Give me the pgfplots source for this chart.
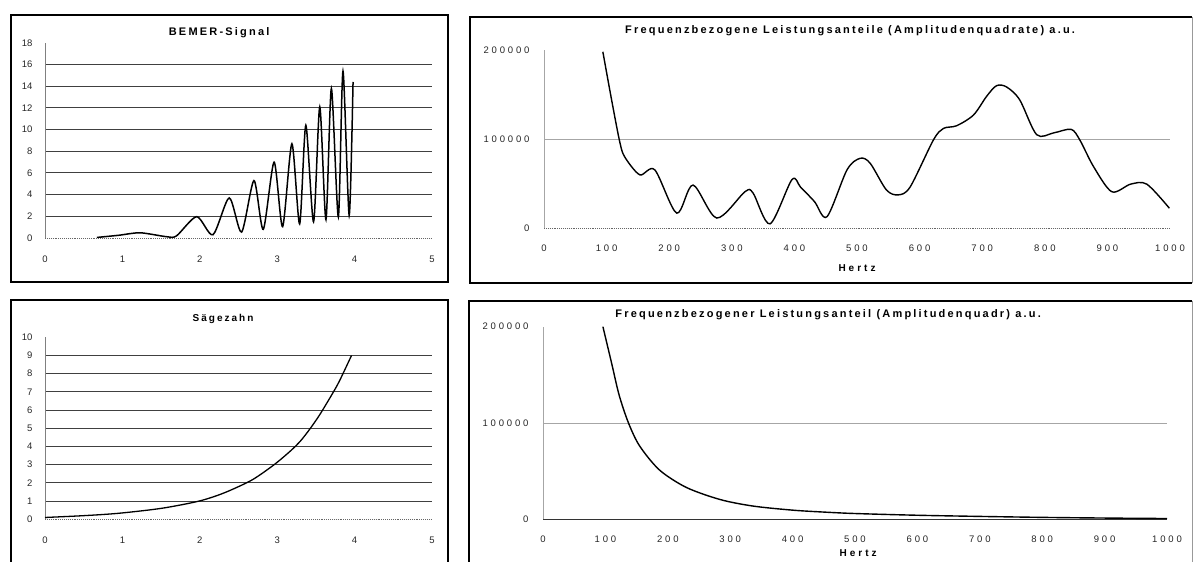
\documentclass[border=0pt]{standalone}
\usepackage{fontspec}
\setmainfont{Liberation Sans}
\newfontfamily\wideA[LetterSpace=30]{Liberation Sans}
\newfontfamily\wideB[LetterSpace=20]{Liberation Sans}
\usepackage{pgfplots}
\pgfplotsset{compat=1.18}

\pgfplotsset{
  panel/.style={
    scale only axis, anchor=origin, clip=false,
    axis lines=left, axis line style={-},
    major tick length=0pt, minor tick num=0,
    scaled ticks=false,
    /pgf/number format/assume math mode=true,
    /pgf/number format/1000 sep={},
    ymajorgrids, extra y tick style={grid=none},
    title style={anchor=center, font=\wideB\bfseries\fontsize{11}{12}\selectfont},
    tick label style={text=black!85},
  },
  leftpanel/.style={panel,
    xmin=0, xmax=5, xtick={0,...,5},
    x axis line style={black!60, line width=0.9pt, densely dotted},
    y axis line style={black!50, line width=0.6pt},
    grid style={black!75, line width=1pt},
    xticklabel style={font=\fontsize{9.5}{10}\selectfont, yshift=-14pt},
    yticklabel style={font=\fontsize{9.5}{10}\selectfont, xshift=-9pt},
  },
  rightpanel/.style={panel,
    xmin=0, xmax=1000, xtick={0,100,...,1000},
    ymin=0, ymax=200000,
    ytick={100000}, extra y ticks={0,200000},
    yticklabels={100000}, extra y tick labels={0,200000},
    y axis line style={black!35, line width=0.6pt},
    grid style={black!35, line width=0.8pt},
    xticklabel style={font=\wideA\fontsize{9.5}{10}\selectfont, yshift=-13pt},
    yticklabel style={font=\wideA\fontsize{9.5}{10}\selectfont, xshift=-11pt},
    xlabel={Hertz},
    xlabel style={anchor=center, font=\wideA\bfseries\fontsize{10}{11}\selectfont},
  },
}

\begin{document}
\begin{tikzpicture}[x=1pt,y=1pt]
\useasboundingbox (0,0) rectangle (1194,562);

% chart frames
\draw[line width=2.5pt] (11,280) rectangle (448,547);
\draw[line width=2.5pt] (1192,279) -- (470,279) -- (470,545) -- (1192,545);
\draw[black!40, line width=0.8pt] (1192,279) -- (1192,545);
\draw[line width=2.5pt] (11,-5) -- (11,262) -- (448,262) -- (448,-5);
\draw[line width=2.5pt] (469,-5) -- (469,261) -- (1192,261);
\draw[black!40, line width=0.8pt] (1192,261) -- (1192,-5);

% BEMER-Signal
\begin{axis}[leftpanel, at={(45pt,324pt)}, width=387pt, height=195pt,
  ymin=0, ymax=18, ytick={2,4,...,16}, extra y ticks={0,18},
  title={BEMER-Signal}, title style={at={(axis description cs:0.45,1.021)}}]
\addplot[black, line width=1.5pt, smooth, tension=0.45] coordinates {
 (0.67,0.05) (0.95,0.25) (1.23,0.48) (1.57,0.12) (1.70,0.2)
 (1.96,1.97) (2.17,0.3) (2.38,3.7) (2.54,0.55) (2.70,5.3)
 (2.82,0.8) (2.96,7.0) (3.07,1.05) (3.19,8.7) (3.29,1.3)
 (3.37,10.4) (3.47,1.5) (3.55,12.1) (3.63,1.7) (3.70,13.8)
 (3.79,1.95) (3.85,15.4) (3.93,2.1) (3.98,14.4)
};
\end{axis}

% Saegezahn
\begin{axis}[leftpanel, at={(45pt,42.7pt)}, width=387pt, height=182pt,
  ymin=0, ymax=10, ytick={1,...,9}, extra y ticks={0,10},
  title={Sägezahn}, title style={at={(axis description cs:0.46,1.066)},
    font=\wideB\bfseries\fontsize{10}{11}\selectfont}]
\addplot[black, line width=1.3pt, smooth] coordinates {
 (0,0.1) (0.5,0.2) (0.95,0.33) (1.5,0.6) (1.96,0.97) (2.22,1.3)
 (2.43,1.66) (2.69,2.2) (2.96,3.0) (3.17,3.75) (3.30,4.3) (3.42,4.95)
 (3.55,5.75) (3.72,6.95) (3.81,7.65) (3.96,9.0)
};
\end{axis}

% Frequenzbezogene Leistungsanteile
\begin{axis}[rightpanel, at={(544pt,333.7pt)}, width=626pt, height=178.3pt,
  x axis line style={black!60, line width=0.9pt, densely dotted},
  xlabel style={at={(axis description cs:0.5,-0.223)}},
  title={Frequenzbezogene Leistungsanteile (Amplitudenquadrate) a.u.},
  title style={at={(axis description cs:0.489,1.073)}}]
\addplot[black, line width=1.4pt, smooth, tension=0.5] coordinates {
 (94,198000) (108,144000) (121,97000) (129,80000) (153,60000)
 (177,65500) (212,17000) (238,48500) (276,11500) (321,41000)
 (334,39500) (361,5000) (396,54500) (410,46000) (432,30000)
 (452,13000) (484,65500) (505,78500) (521,73000) (547,43000)
 (566,37500) (585,46500) (622,99000) (638,112000) (659,115000)
 (686,127000) (707,148000) (723,160000) (739,158500) (760,144000)
 (787,105000) (814,107000) (842,111000) (856,99000) (878,69000)
 (907,41000) (937,49500) (963,49500) (999,22500)
};
\end{axis}

% Frequenzbezogener Leistungsanteil
\begin{axis}[rightpanel, at={(543pt,42.7pt)}, width=624pt, height=192.6pt,
  x axis line style={black!80, line width=1.2pt},
  xlabel style={at={(axis description cs:0.505,-0.175)}},
  title={Frequenzbezogener Leistungsanteil (Amplitudenquadr) a.u.},
  title style={at={(axis description cs:0.457,1.029)}}]
\addplot[black, line width=1.4pt, smooth] coordinates {
 (96,200000) (110,162000) (122,129000) (137,100000) (155,76000)
 (187,51000) (230,33000) (284,20500) (337,13700) (400,9500)
 (450,7500) (500,6000) (600,4200) (700,3000) (800,2000)
 (900,1300) (1000,800)
};
\end{axis}
\end{tikzpicture}
\end{document}
